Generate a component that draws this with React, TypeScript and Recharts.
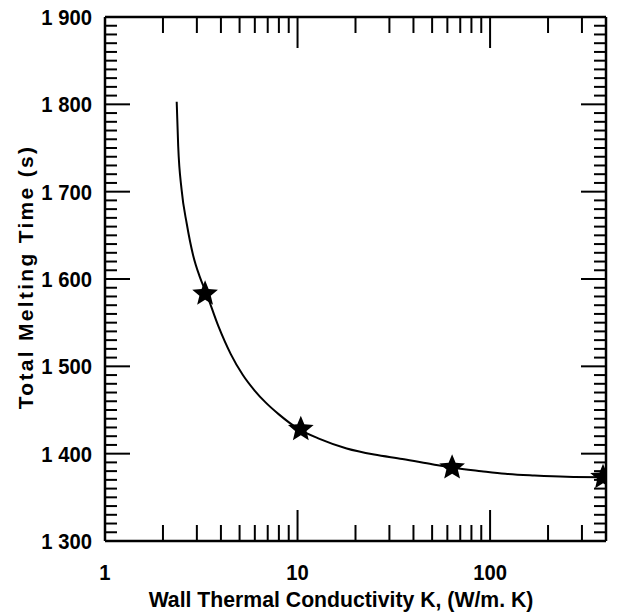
import { ComposedChart, Line, Scatter, XAxis, YAxis } from 'recharts'

// fitted curve
const curveK = [2.357, 2.4, 2.5, 2.66, 2.87, 3.1, 3.37, 3.88, 4.5, 5.2, 6.0, 6.8, 8.0, 10, 13, 18, 25, 35, 50, 64, 90, 120, 170, 250, 386]
const curveTime = [1803, 1752, 1702, 1663, 1627, 1603, 1583, 1546, 1514, 1490, 1472, 1459, 1445, 1429, 1417, 1406, 1399, 1394, 1388, 1384, 1380, 1377, 1375, 1373.5, 1373]

// computed points (stars)
const pointK = [3.31, 10.4, 63.5, 386]
const pointTime = [1583, 1428, 1384, 1373]

const xMajor = [1, 10, 100]
const xMinor = [2, 3, 4, 5, 6, 7, 8, 9, 20, 30, 40, 50, 60, 70, 80, 90, 200, 300]
const yMajor = [1300, 1400, 1500, 1600, 1700, 1800, 1900]

const xTicks = [...xMajor, ...xMinor].sort((a, b) => a - b)
const yTicks: number[] = []
for (let v = 1300; v <= 1900; v += 10) yTicks.push(v)

const curveData = curveK.map((k, i) => ({ k, t: curveTime[i] }))
const pointData = pointK.map((k, i) => ({ k, t: pointTime[i] }))

const FONT = '"Liberation Sans", Arial, sans-serif'
const TICK_W = 2
const X_MAJOR_LEN = 31
const X_MINOR_LEN = 16
const Y_MAJOR_LEN = 25
const Y_MINOR_LEN = 12

const fmtY = (v: number) => `${Math.floor(v / 1000)} ${String(v % 1000).padStart(3, '0')}`

function Label({ x, y, text, anchor = 'middle', size = 22, sx = 0.92, rotate = 0, spacing = 0 }: any) {
  return (
    <g transform={`translate(${x},${y}) rotate(${rotate}) scale(${sx},1)`}>
      <text x={0} y={0} textAnchor={anchor} fontFamily={FONT} fontWeight="bold" fontSize={size} letterSpacing={spacing} fill="#000">
        {text}
      </text>
    </g>
  )
}

function BottomTick({ x, y, payload }: any) {
  const major = xMajor.includes(payload.value)
  return (
    <g>
      <line x1={x} x2={x} y1={y} y2={y - (major ? X_MAJOR_LEN : X_MINOR_LEN)} stroke="#000" strokeWidth={TICK_W} />
      {major && <Label x={x} y={y + 39} text={String(payload.value)} />}
    </g>
  )
}

function TopTick({ x, y, payload }: any) {
  const major = xMajor.includes(payload.value)
  return <line x1={x} x2={x} y1={y} y2={y + (major ? X_MAJOR_LEN : X_MINOR_LEN)} stroke="#000" strokeWidth={TICK_W} />
}

function LeftTick({ x, y, payload }: any) {
  const major = yMajor.includes(payload.value)
  return (
    <g>
      <line x1={x} x2={x + (major ? Y_MAJOR_LEN : Y_MINOR_LEN)} y1={y} y2={y} stroke="#000" strokeWidth={TICK_W} />
      {major && <Label x={x - 13} y={y + 8} text={fmtY(payload.value)} anchor="end" />}
    </g>
  )
}

function RightTick({ x, y, payload }: any) {
  const major = yMajor.includes(payload.value)
  return <line x1={x} x2={x - (major ? Y_MAJOR_LEN : Y_MINOR_LEN)} y1={y} y2={y} stroke="#000" strokeWidth={TICK_W} />
}

function starPath(cx: number, cy: number, R: number, r: number) {
  let d = ''
  for (let i = 0; i < 10; i++) {
    const a = (-90 + i * 36) * Math.PI / 180
    const rad = i % 2 ? r : R
    d += `${i ? 'L' : 'M'}${cx + rad * Math.cos(a)},${cy + rad * Math.sin(a)}`
  }
  return d + 'Z'
}

const Star = ({ cx, cy }: any) => <path d={starPath(cx, cy, 13.5, 6)} fill="#000" />

const axisLine = { stroke: '#000', strokeWidth: 2.5 }

export default function App() {
  return (
    <div style={{ position: 'absolute', left: 0, top: 0, background: '#fff' }}>
      <ComposedChart width={623} height={615} data={curveData} margin={{ top: 16, right: 16, bottom: 73, left: 104 }}>
        <XAxis dataKey="k" type="number" scale="log" domain={[1, 400]} allowDataOverflow ticks={xTicks} interval={0}
          height={1} tickSize={0} tickMargin={0} tickLine={false} axisLine={axisLine} tick={<BottomTick />} />
        <XAxis xAxisId="top" orientation="top" dataKey="k" type="number" scale="log" domain={[1, 400]} allowDataOverflow ticks={xTicks} interval={0}
          height={1} tickSize={0} tickMargin={0} tickLine={false} axisLine={axisLine} tick={<TopTick />} />
        <YAxis type="number" domain={[1300, 1900]} allowDataOverflow ticks={yTicks} interval={0}
          width={1} tickSize={0} tickMargin={0} tickLine={false} axisLine={axisLine} tick={<LeftTick />} />
        <YAxis yAxisId="right" orientation="right" type="number" domain={[1300, 1900]} allowDataOverflow ticks={yTicks} interval={0}
          width={1} tickSize={0} tickMargin={0} tickLine={false} axisLine={axisLine} tick={<RightTick />} />
        <Line dataKey="t" type="monotone" stroke="#000" strokeWidth={2} dot={false} isAnimationActive={false} />
        <Scatter data={pointData} dataKey="t" shape={<Star />} isAnimationActive={false} />
      </ComposedChart>
      <svg width={623} height={615} style={{ position: 'absolute', left: 0, top: 0, pointerEvents: 'none' }}>
        <Label x={341} y={607} text="Wall Thermal Conductivity K, (W/m. K)" sx={0.965} />
        <Label x={33} y={277} text="Total Melting Time (s)" size={21} sx={1} rotate={-90} spacing={2.3} />
      </svg>
    </div>
  )
}
